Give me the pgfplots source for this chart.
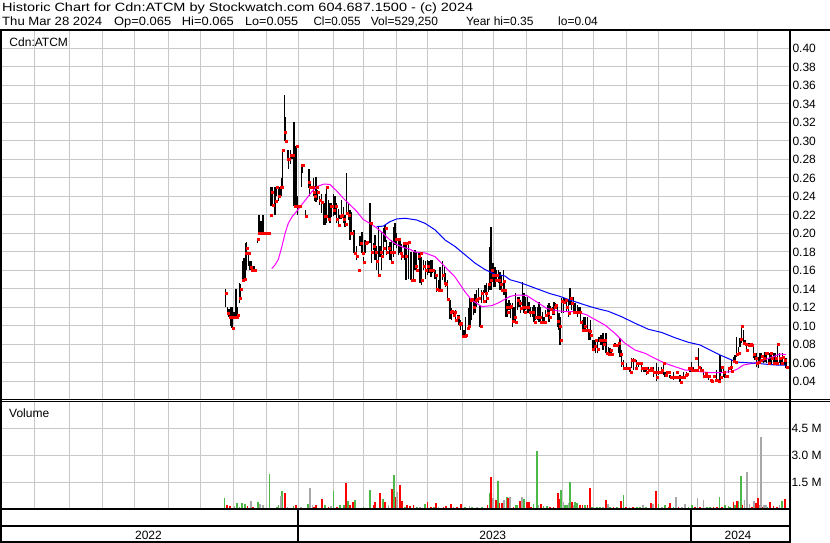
\documentclass[border=0pt]{standalone}
\usepackage{graphicx}
\usepackage{pgfplots}
\pgfplotsset{compat=1.18}
\usepackage{pgfplotstable}
\usepackage{fontspec}
\setmainfont{Liberation Sans}
\definecolor{gridgray}{RGB}{200,200,200}
\definecolor{vgreen}{RGB}{76,184,72}
\definecolor{vgray}{RGB}{168,168,168}
\definecolor{magma}{RGB}{255,0,255}

\pgfplotstableread{
x lo hi cl
225.3 0.12 0.14 0.135
227.3 0.112 0.12 0.114
229 0.11 0.118 0.11
231 0.10 0.121 0.11
232 0.098 0.12 0.098
234 0.11 0.115 0.11
236 0.11 0.14 0.11
237.3 0.11 0.12 0.112
239.5 0.125 0.146 0.13
240.7 0.13 0.145 0.14
242.7 0.15 0.17 0.15
244 0.15 0.173 0.151
245.3 0.15 0.19 0.179
246.7 0.16 0.191 0.184
248.7 0.165 0.179 0.179
250 0.16 0.17 0.164
251.7 0.16 0.17 0.16
253.3 0.16 0.165 0.16
254.7 0.16 0.165 0.16
257.3 0.19 0.194 0.194
258.3 0.20 0.22 0.20
259.7 0.20 0.22 0.20
261 0.20 0.213 0.20
262.3 0.20 0.22 0.20
263.3 0.20 0.22 0.20
266.7 0.20 0.20 0.20
268.3 0.20 0.20 0.20
270 0.22 0.22 0.22
271 0.23 0.25 0.245
272.7 0.23 0.25 0.231
275 0.22 0.25 0.235
276 0.24 0.25 0.25
278.3 0.235 0.25 0.24
280 0.24 0.25 0.25
281.3 0.24 0.26 0.25
282.7 0.25 0.29 0.29
284.3 0.30 0.35 0.31
285.3 0.30 0.326 0.30
287.3 0.28 0.29 0.28
288.7 0.27 0.29 0.28
290.3 0.275 0.29 0.285
292 0.28 0.285 0.285
294 0.23 0.32 0.23
296 0.228 0.295 0.294
297.3 0.22 0.24 0.23
299.3 0.23 0.23 0.23
301.3 0.25 0.275 0.274
302.7 0.265 0.275 0.274
305.7 0.219 0.225 0.219
308.3 0.249 0.27 0.255
309.3 0.24 0.27 0.25
310.7 0.25 0.256 0.25
312 0.25 0.25 0.25
313.3 0.24 0.26 0.245
314.7 0.235 0.245 0.24
316 0.234 0.261 0.25
317.3 0.236 0.247 0.245
319.3 0.231 0.24 0.236
321.7 0.222 0.243 0.234
324 0.209 0.233 0.219
325.3 0.209 0.243 0.219
326.7 0.211 0.25 0.25
328.3 0.215 0.236 0.215
330 0.211 0.233 0.23
331.7 0.218 0.233 0.23
333.3 0.219 0.243 0.225
335 0.22 0.24 0.23
336.7 0.211 0.233 0.215
338.3 0.209 0.227 0.209
340 0.216 0.22 0.219
341.7 0.216 0.236 0.22
343.3 0.211 0.229 0.215
345 0.207 0.22 0.21
346.7 0.222 0.265 0.222
348.3 0.215 0.233 0.22
350 0.193 0.225 0.2
351.7 0.198 0.223 0.2
354 0.179 0.204 0.179
356.7 0.171 0.186 0.175
358 0.16 0.16 0.16
360 0.186 0.197 0.19
362 0.179 0.202 0.179
363.3 0.169 0.175 0.169
365 0.179 0.193 0.19
366.7 0.19 0.19 0.191
370 0.19 0.233 0.211
371.7 0.168 0.211 0.18
373.3 0.182 0.19 0.186
375 0.171 0.198 0.18
376.7 0.16 0.186 0.17
378.3 0.155 0.207 0.155
380 0.175 0.186 0.18
381.7 0.16 0.202 0.175
383.3 0.175 0.206 0.184
385 0.191 0.209 0.206
386.7 0.177 0.193 0.18
388.3 0.182 0.186 0.184
390 0.171 0.191 0.18
391.7 0.169 0.193 0.169
393.3 0.175 0.207 0.18
395 0.188 0.211 0.194
396.7 0.184 0.2 0.194
398.3 0.177 0.195 0.194
400 0.179 0.193 0.179
401.7 0.171 0.189 0.175
403.3 0.184 0.191 0.19
405 0.171 0.191 0.175
406 0.15 0.191 0.189
408.3 0.151 0.191 0.191
411 0.15 0.18 0.15
413.3 0.15 0.18 0.15
415 0.16 0.182 0.165
416.7 0.16 0.18 0.16
418.3 0.171 0.18 0.175
420 0.146 0.18 0.179
421.7 0.144 0.175 0.15
423.3 0.16 0.171 0.165
425.7 0.151 0.17 0.16
427.3 0.155 0.171 0.165
429 0.157 0.17 0.16
431 0.153 0.171 0.16
432.7 0.157 0.171 0.16
435 0.151 0.16 0.155
436.7 0.137 0.153 0.14
438.3 0.137 0.15 0.139
440 0.139 0.164 0.139
442.3 0.15 0.17 0.155
444.3 0.146 0.164 0.146
445.7 0.142 0.157 0.145
447.3 0.128 0.15 0.129
450 0.108 0.128 0.115
451.7 0.107 0.119 0.1155
453.3 0.11 0.117 0.112
454.3 0.115 0.115 0.115
455.7 0.1065 0.117 0.1065
457.3 0.1065 0.112 0.11
459 0.101 0.112 0.102
460.7 0.096 0.1065 0.103
462.3 0.0885 0.103 0.089
464 0.089 0.096 0.089
465.7 0.089 0.11 0.09
467.3 0.0975 0.0975 0.0975
468.3 0.096 0.119 0.1
470 0.099 0.13 0.128
471.7 0.1065 0.13 0.129
473.3 0.112 0.128 0.12
475 0.114 0.135 0.128
476.7 0.121 0.139 0.129
478.3 0.1245 0.1407 0.13
480 0.0993 0.1227 0.0993
481.7 0.1245 0.1389 0.1353
483.3 0.1245 0.139 0.1263
485 0.1353 0.1443 0.1353
486.7 0.1245 0.146 0.13
488.3 0.137 0.146 0.1454
490 0.139 0.1858 0.15
491 0.139 0.2074 0.16
492.3 0.1497 0.1677 0.155
493.3 0.1425 0.1677 0.1551
495 0.1425 0.1641 0.15
496.7 0.1479 0.1605 0.155
498.3 0.1461 0.1605 0.15
500 0.1389 0.1587 0.145
501.7 0.1389 0.1551 0.1389
503.3 0.1389 0.1605 0.1479
504 0.1335 0.1497 0.139
506 0.1101 0.1389 0.1201
507.3 0.1101 0.1245 0.115
509 0.1173 0.1281 0.12
510.7 0.1083 0.1245 0.1209
512.3 0.0992 0.1245 0.105
514 0.1065 0.1209 0.11
515.7 0.1046 0.1353 0.1046
517.3 0.1173 0.1317 0.1281
519 0.1209 0.1317 0.125
520.7 0.1137 0.1281 0.1191
522.3 0.1173 0.1479 0.12
524 0.1137 0.1353 0.1147
525.7 0.1173 0.1317 0.12
527.3 0.1137 0.1317 0.12
529 0.1137 0.1263 0.1147
530.7 0.1101 0.1209 0.115
532.3 0.1101 0.1209 0.115
534 0.1046 0.1227 0.1046
535.7 0.1065 0.1209 0.11
537.3 0.1065 0.1209 0.11
539 0.1046 0.1263 0.11
540.7 0.1046 0.1209 0.1046
542.3 0.1046 0.1155 0.1046
544 0.1046 0.11 0.1046
545.7 0.1101 0.1173 0.112
547.3 0.1137 0.1227 0.1137
549 0.1046 0.1245 0.11
550.7 0.1183 0.122 0.1183
552.3 0.1119 0.1209 0.115
554 0.1119 0.1263 0.12
555.7 0.122 0.125 0.1227
557.3 0.0992 0.1209 0.105
559 0.0956 0.1137 0.1
560 0.0794 0.1101 0.0848
561.7 0.1137 0.13 0.1273
563.3 0.1137 0.13 0.1252
565 0.1263 0.13 0.128
566.7 0.1155 0.1263 0.12
568.3 0.1101 0.1281 0.1137
570 0.1227 0.1407 0.13
571.7 0.1173 0.1317 0.1245
573.3 0.1137 0.1317 0.1147
575 0.1137 0.1245 0.1147
577.3 0.1101 0.1227 0.115
579 0.1137 0.1209 0.115
580.7 0.1046 0.1209 0.1046
582.3 0.0956 0.1065 0.0956
584 0.094 0.1101 0.1
585.7 0.0956 0.1101 0.0956
587.3 0.0956 0.1101 0.0956
589 0.0848 0.0956 0.0949
590.7 0.0848 0.1065 0.09
592.3 0.074 0.0848 0.0751
594 0.074 0.0848 0.078
595.7 0.0704 0.0848 0.0848
597.3 0.0704 0.0848 0.075
599 0.083 0.0884 0.0848
601 0.0793 0.0902 0.0848
603 0.0739 0.092 0.08
604.3 0.08 0.0848 0.0848
606 0.0703 0.092 0.0703
608.3 0.0685 0.0775 0.07
610 0.0685 0.0757 0.0739
611.7 0.0685 0.0739 0.07
613.3 0.0793 0.0793 0.0793
615 0.0775 0.0812 0.0793
616.7 0.079 0.0793 0.0793
618.3 0.0703 0.0812 0.0812
620 0.0667 0.0866 0.07
621.7 0.0559 0.0739 0.06
623.3 0.0523 0.0631 0.0541
625 0.0541 0.0541 0.0541
626.7 0.0523 0.0595 0.0541
628.3 0.0541 0.0541 0.0541
630 0.0505 0.0559 0.0505
631.7 0.0541 0.0649 0.0631
633.3 0.0523 0.0649 0.0631
635 0.0541 0.0541 0.0541
636.7 0.0541 0.0631 0.0595
638.3 0.0559 0.0613 0.0595
640 0.0595 0.0595 0.0595
641.7 0.0505 0.0595 0.0541
643.3 0.0505 0.0559 0.0541
645 0.0505 0.0541 0.0541
646.7 0.0469 0.0541 0.0505
648.3 0.0505 0.0559 0.052
650 0.0541 0.0541 0.0541
651.7 0.0505 0.0541 0.052
653.3 0.0451 0.0559 0.0505
655 0.0505 0.0505 0.0505
656.7 0.0405 0.0595 0.045
658.3 0.0469 0.0559 0.05
660 0.0505 0.0505 0.0505
661.7 0.0505 0.0559 0.052
663.3 0.0469 0.0613 0.0595
665 0.0451 0.0505 0.047
666.7 0.0505 0.0505 0.0505
668.3 0.0505 0.0505 0.0505
670 0.0433 0.0469 0.0451
671.7 0.0451 0.0451 0.0451
673.3 0.0415 0.0505 0.0451
675 0.0451 0.0451 0.0451
676.7 0.0505 0.0505 0.0505
678.3 0.0451 0.0451 0.0451
680 0.0397 0.0469 0.0397
681.7 0.0451 0.0451 0.0451
683.3 0.0433 0.0505 0.045
685 0.0469 0.0469 0.0469
686.7 0.0469 0.0505 0.048
688.3 0.0541 0.0541 0.0541
690 0.0505 0.0559 0.0541
691.7 0.0505 0.0613 0.0523
693.3 0.0506 0.056 0.0524
695 0.065 0.065 0.065
696.7 0.0524 0.0524 0.0524
698.3 0.0506 0.0759 0.055
700 0.0524 0.0524 0.0524
701.7 0.0506 0.056 0.052
703.3 0.0434 0.0506 0.0452
705 0.0495 0.0495 0.0495
706.7 0.0452 0.0452 0.0452
708.3 0.0416 0.047 0.0452
710 0.0409 0.0409 0.0409
711.7 0.0398 0.0398 0.0398
713.3 0.0452 0.0452 0.0452
715 0.0409 0.0409 0.0409
716.7 0.0398 0.0524 0.041
718.3 0.0398 0.0398 0.0398
720 0.0398 0.0686 0.045
721.7 0.0506 0.056 0.0553
723.3 0.0452 0.0542 0.05
725 0.0434 0.0488 0.0452
726.7 0.0452 0.0452 0.0452
728.3 0.0488 0.0542 0.0542
730 0.0524 0.056 0.055
731.7 0.0506 0.0632 0.0506
733.3 0.0596 0.0668 0.062
735 0.0604 0.0686 0.0604
736.7 0.0668 0.0885 0.07
738.3 0.0705 0.0777 0.0705
740 0.0777 0.0867 0.0856
741.7 0.0813 0.1 0.1
743.3 0.0813 0.0957 0.0813
745 0.0795 0.0849 0.0802
746.7 0.0741 0.0813 0.0741
748.3 0.0777 0.0813 0.079
750 0.0777 0.0813 0.0802
751.7 0.0777 0.0813 0.0795
753.3 0.065 0.0777 0.07
755 0.0632 0.0705 0.065
756.7 0.056 0.0705 0.06
758.3 0.0542 0.0668 0.0604
760 0.0614 0.0705 0.0632
761.7 0.065 0.0705 0.067
763.3 0.0596 0.0686 0.065
765 0.0614 0.0723 0.0705
766.7 0.0596 0.0705 0.0705
768.3 0.0596 0.065 0.0596
770 0.0596 0.0705 0.0705
771.7 0.0578 0.0705 0.065
773.3 0.0578 0.0705 0.0596
775 0.0596 0.0705 0.065
776.7 0.0596 0.065 0.0596
777.7 0.0578 0.0802 0.0802
779.3 0.0596 0.0705 0.065
781 0.0578 0.0668 0.0596
782.7 0.0596 0.0705 0.0668
784.3 0.0578 0.0668 0.0632
786 0.055 0.065 0.055
}\pricedata

\begin{document}
\begin{tikzpicture}[every node/.style={font=\fontsize{12bp}{14bp}\selectfont}]
\useasboundingbox (0,0) rectangle (830bp,543bp);

% ---------- price panel ----------
\begin{axis}[
  at={(1.5bp,143bp)}, anchor=south west,
  width=788.5bp, height=370bp, scale only axis,
  xmin=1.5, xmax=790, ymin=0.02, ymax=0.42,
  axis line style={draw=none},
  major tick length=0pt,
  xtick={34,69,102,134,168,200,233,266,298,333,363,396,427,462,493,526,562,593,626,658,691,724,757},
  xticklabels={},
  ytick={0.04,0.06,0.08,0.10,0.12,0.14,0.16,0.18,0.20,0.22,0.24,0.26,0.28,0.30,0.32,0.34,0.36,0.38,0.40},
  yticklabel pos=right,
  yticklabel style={font=\fontsize{12bp}{14bp}\selectfont, anchor=west, xshift=-1bp,
    /pgf/number format/.cd, fixed, fixed zerofill, precision=2, assume math mode=true},
  grid=major,
  grid style={gridgray, line width=1bp},
  clip=true,
]
\addplot[draw=none, mark=none, forget plot,
  error bars/.cd, y dir=plus, y explicit, error mark=none,
  error bar style={draw=black, solid, line width=1.2bp}]
  table[x=x, y=lo, y error expr=\thisrow{hi}-\thisrow{lo}] {\pricedata};
\addplot[only marks, red, mark=square*, mark size=1bp, mark options={solid, fill=red, draw=red, xshift=0.9bp}]
  table[x=x, y=cl] {\pricedata};
% 30-day moving average (magenta)
\addplot[magma, line width=1bp, mark=none] coordinates {
(271.7,0.162) (275,0.166) (278.3,0.172) (281.7,0.185) (285,0.2) (288.3,0.211) (292,0.218)
(296.7,0.224) (301.7,0.231) (306.7,0.238) (311.7,0.245) (316.7,0.2506) (324,0.2535) (330,0.253)
(336.7,0.246) (343.3,0.238) (350,0.231) (356.7,0.224) (363.3,0.215) (370,0.211) (376.7,0.206)
(383.3,0.2) (390,0.193) (396.7,0.188) (403.3,0.185) (410,0.183) (415,0.18) (425,0.179)
(435,0.175) (445,0.164) (455,0.153) (465,0.137) (471.7,0.128) (481.7,0.121) (491.7,0.122)
(498.3,0.125) (505,0.129) (510,0.132) (516.7,0.1335) (526.7,0.133) (536.7,0.126) (546.7,0.119)
(556.7,0.1165) (566.7,0.1155) (576.7,0.1155) (586.7,0.112) (593.3,0.108) (600,0.104) (605,0.101)
(615,0.092) (625,0.0813) (635,0.074) (645,0.0705) (655,0.065) (665,0.0597) (675,0.056)
(685,0.0524) (695,0.0524) (700,0.0506) (710,0.0495) (720,0.0495) (730,0.0506) (736.7,0.053)
(743.3,0.0578) (753.3,0.0597) (763.3,0.063) (773.3,0.0668) (780,0.0697) (786,0.069)
};
% long moving average (blue)
\addplot[blue, line width=1bp, mark=none] coordinates {
(376.7,0.2074) (383.3,0.208) (390,0.2128) (396.7,0.2157) (405,0.2165) (416.7,0.2146) (425,0.211)
(435,0.204) (445,0.193) (455,0.186) (465,0.177) (475,0.168) (485,0.161) (495,0.156) (505,0.154)
(510,0.150) (520,0.147) (530,0.143) (540,0.139) (550,0.135) (560,0.132) (570,0.128) (580,0.1245)
(590,0.121) (600,0.118) (608,0.116) (621.7,0.110) (635,0.103) (648.3,0.0965) (661.7,0.093)
(675,0.0873) (688.3,0.0824) (700,0.0795) (710,0.074) (720,0.0687) (730,0.064) (736.7,0.061)
(746.7,0.0603) (756.7,0.0597) (766.7,0.0586) (776.7,0.0578) (786,0.0578)
};
\end{axis}

% ---------- volume panel ----------
\begin{axis}[
  at={(1.5bp,34bp)}, anchor=south west,
  width=788.5bp, height=107bp, scale only axis,
  xmin=1.5, xmax=790, ymin=0, ymax=6,
  axis line style={draw=none},
  major tick length=0pt,
  xtick={34,69,102,134,168,200,233,266,298,333,363,396,427,462,493,526,562,593,626,658,691,724,757},
  xticklabels={},
  ytick={1.5,3.0,4.5},
  yticklabels={1.5 M,3.0 M,4.5 M},
  yticklabel pos=right,
  yticklabel style={font=\fontsize{12bp}{14bp}\selectfont, anchor=west, xshift=-2bp},
  grid=major,
  grid style={gridgray, line width=1bp},
  clip=true,
]
\addplot[ycomb, vgreen, line width=1.6bp, mark=none] coordinates {
(224.3,0.64) (236.7,0.32) (239.3,0.13) (241.7,0.32) (245,0.28) (257.7,0.37) (269.3,1.97)
(276.7,0.13) (278.3,0.22) (282,1.01) (293.3,0.17) (307.7,0.28) (325,0.22) (333.3,1.01)
(340,0.22) (344,0.22) (347.7,0.45) (355,0.52) (363.3,0.09) (370,1.07) (382.7,0.56) (394,1.91)
(405,0.09) (416.7,0.09) (425,0.28) (434,0.13) (465,0.09) (471.7,0.09) (481.7,0.09) (489.3,0.88)
(497.7,1.57) (506.7,0.66) (516,0.22) (517.3,0.22) (524,0.56) (533.3,0.28) (536.7,3.26)
(543.3,0.17) (546.7,0.17) (561,1.07) (565,0.22) (566.7,0.22) (570,1.5) (575,0.37) (576.7,0.35)
(585,0.22) (591.7,0.09) (596.7,0.09) (600,0.13) (610,0.13) (616.7,0.09) (623.3,0.79)
(636.7,0.09) (640,0.09) (646,0.09) (658.3,0.28) (665,0.22) (673.3,0.13) (688.3,0.09)
(691.7,0.2) (706.7,0.09) (710,0.09) (719.3,0.69) (725,0.22) (728.3,0.17) (730,0.13) (735,0.22)
(738.3,0.45) (740.7,1.85) (767.3,0.13) (781.7,0.45)
};
\addplot[ycomb, red, line width=1.6bp, mark=none] coordinates {
(226.7,0.22) (230,0.19) (247.3,0.17) (252.7,0.13) (271.7,0.06) (284.7,0.92) (295.7,0.22)
(314,0.13) (316,0.22) (321.7,0.58) (328.3,0.09) (336.7,0.13) (345.7,1.48) (350,0.22)
(352.7,0.41) (360,0.06) (373.3,0.22) (375,0.41) (380,0.92) (385,0.41) (391.7,1.14) (395.7,0.69)
(399.7,1.35) (401.7,0.45) (406.7,0.22) (410,0.17) (413.3,0.22) (427.3,0.39) (430.7,0.09)
(436,0.32) (443.3,0.09) (446,0.17) (450.7,0.28) (456.7,0.13) (460.7,0.28) (487.3,0.22)
(490.7,1.78) (495.7,0.51) (499.3,0.32) (501.7,0.32) (508,0.64) (513.3,0.13) (520,0.45)
(526.7,0.41) (528.7,0.37) (530.7,0.09) (540.7,0.28) (550,0.09) (553.3,0.09) (557.7,0.88)
(559.3,0.58) (571.7,0.41) (580,0.22) (582.3,0.24) (587.3,0.22) (590,1.16) (606,0.51)
(613.3,0.09) (620.7,0.45) (626,0.13) (632.7,0.09) (650.7,0.32) (656,1.01) (668.3,0.13)
(670,0.35) (678.3,0.09) (695,0.09) (700,0.09) (713.3,0.09) (716.7,0.09) (721.7,0.09)
(733.3,0.37) (736.7,0.45) (742.3,0.22) (751.7,0.13) (756,0.32) (757.7,0.6) (762.7,0.13)
(770,0.37) (773.3,0.17) (776.7,0.13) (785,0.56)
};
\addplot[ycomb, vgray, line width=1.6bp, mark=none] coordinates {
(234.3,0.17) (250.7,0.47) (260,0.28) (262.7,0.22) (280.7,0.73) (287.3,0.09) (300.7,0.13)
(310,1.18) (312.3,0.22) (330.7,0.17) (388.3,0.22) (396.7,0.97) (420,0.13) (438.3,0.13)
(453.3,0.09) (469.3,0.17) (476.7,0.13) (492.7,0.64) (504,0.51) (510,0.66) (522,0.69)
(538.3,0.22) (563.3,0.37) (568.3,0.32) (573.3,0.24) (593.3,0.09) (602.7,0.09) (607.7,0.28)
(629.3,0.09) (642.7,0.22) (652.7,0.28) (661.7,0.09) (675.7,0.69) (681.7,0.09) (685,0.28)
(697.3,0.6) (703.3,0.51) (744.3,0.51) (746.7,2.1) (749.3,0.28) (754,0.45) (759.3,0.22)
(761,4.03) (764,0.22) (766,0.22) (779.3,0.22)
};
\end{axis}

% ---------- frame ----------
\draw[line width=2bp] (0,513bp) -- (830bp,513bp);
\draw[line width=1bp] (0,143bp) -- (830bp,143bp);
\draw[line width=1bp] (0,141bp) -- (830bp,141bp);
\draw[line width=2bp] (0,34bp) -- (791bp,34bp);
\draw[line width=1.5bp] (0,17bp) -- (791bp,17bp);
\draw[line width=2bp] (0,1bp) -- (791bp,1bp);
\draw[line width=2bp] (1bp,0) -- (1bp,514bp);
\draw[line width=2bp] (790bp,0) -- (790bp,514bp);
\draw[line width=1.2bp] (298bp,0) -- (298bp,34bp);
\draw[line width=1.2bp] (691bp,0) -- (691bp,34bp);

% ---------- texts ----------
\node[anchor=base west, inner sep=0] at (2bp,531.7bp) {\resizebox{471bp}{\height}{Historic Chart for Cdn:ATCM by Stockwatch.com 604.687.1500 - (c) 2024}};
\node[anchor=base west, inner sep=0] at (2bp,517.5bp) {\resizebox{100bp}{\height}{Thu Mar 28 2024}};
\node[anchor=base west, inner sep=0] at (114bp,517.5bp) {\resizebox{57bp}{\height}{Op=0.065}};
\node[anchor=base west, inner sep=0] at (181.7bp,517.5bp) {\resizebox{52bp}{\height}{Hi=0.065}};
\node[anchor=base west, inner sep=0] at (245bp,517.5bp) {\resizebox{53bp}{\height}{Lo=0.055}};
\node[anchor=base west, inner sep=0] at (313.3bp,517.5bp) {\resizebox{47bp}{\height}{Cl=0.055}};
\node[anchor=base west, inner sep=0] at (370.7bp,517.5bp) {Vol=529,250};
\node[anchor=base west, inner sep=0] at (466bp,517.5bp) {Year hi=0.35};
\node[anchor=base west, inner sep=0] at (558bp,517.5bp) {lo=0.04};
\node[anchor=base west, inner sep=0] at (9.3bp,496.3bp) {Cdn:ATCM};
\node[anchor=base west, inner sep=0] at (9bp,125.7bp) {Volume};
\node[anchor=base, inner sep=0] at (148.5bp,4bp) {2022};
\node[anchor=base, inner sep=0] at (492.8bp,4bp) {2023};
\node[anchor=base, inner sep=0] at (738bp,4bp) {2024};
\end{tikzpicture}
\end{document}
